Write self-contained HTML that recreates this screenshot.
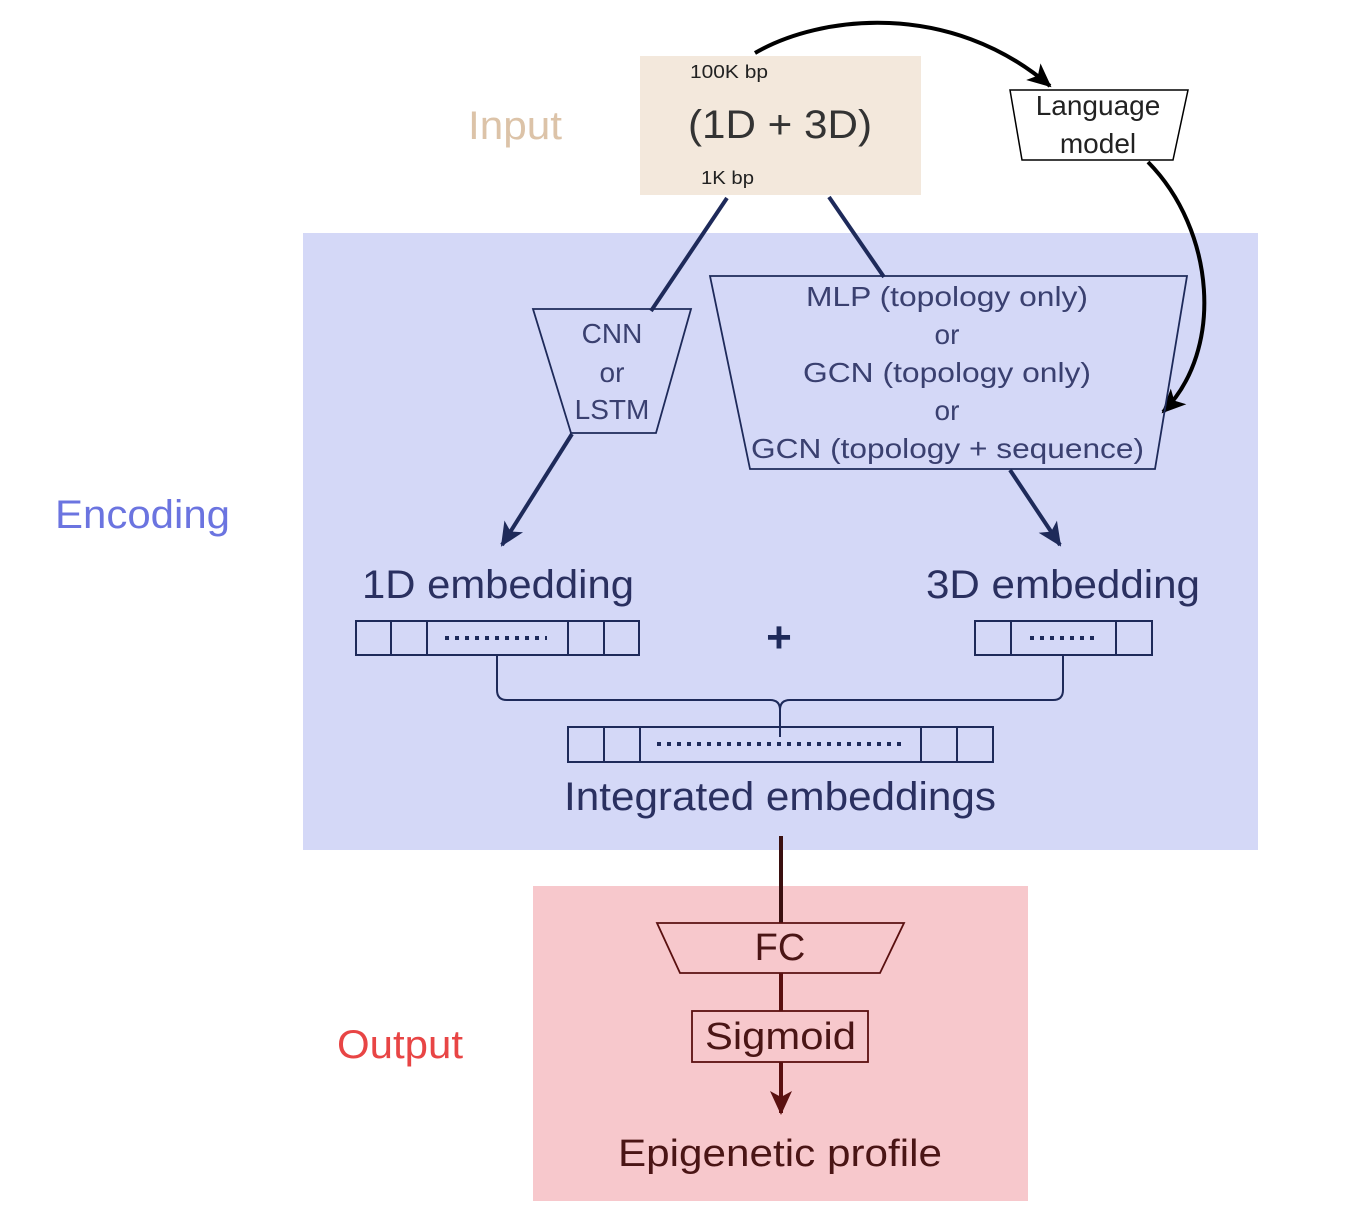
<!DOCTYPE html>
<html><head><meta charset="utf-8"><style>html,body{margin:0;padding:0;background:#fff}svg{display:block}</style></head>
<body>
<svg width="1362" height="1230" viewBox="0 0 1362 1230" xmlns="http://www.w3.org/2000/svg" font-family="Liberation Sans, sans-serif">
<defs>
<marker id="ab" markerWidth="26" markerHeight="26" refX="22" refY="13" orient="auto" markerUnits="userSpaceOnUse" viewBox="0 0 26 26"><path d="M0,2 L24,13 L0,24 L6,13 z" fill="#1e2a5a"/></marker>
<marker id="ar" markerWidth="26" markerHeight="26" refX="22" refY="13" orient="auto" markerUnits="userSpaceOnUse" viewBox="0 0 26 26"><path d="M0,2 L24,13 L0,24 L6,13 z" fill="#5a1010"/></marker>
<marker id="ak2" markerWidth="26" markerHeight="26" refX="22" refY="13" orient="auto" markerUnits="userSpaceOnUse" viewBox="0 0 26 26"><path d="M0,2 L24,13 L0,24 L6,13 z" fill="#000"/></marker>
</defs>
<rect x="640" y="56" width="281" height="139" fill="#f3e8dc"/>
<rect x="303" y="233" width="955" height="617" fill="#d4d8f7"/>
<rect x="533" y="886" width="495" height="315" fill="#f7c8cc"/>

<text x="468" y="139" font-size="40" fill="#dcc3a8" textLength="94" lengthAdjust="spacingAndGlyphs">Input</text>
<text x="55" y="528" font-size="40" fill="#6b74e0" textLength="175" lengthAdjust="spacingAndGlyphs">Encoding</text>
<text x="337" y="1058" font-size="40" fill="#e84545" textLength="126" lengthAdjust="spacingAndGlyphs">Output</text>

<text x="690" y="78" font-size="18" fill="#222" textLength="78" lengthAdjust="spacingAndGlyphs">100K bp</text>
<text x="688" y="138" font-size="40" fill="#333" textLength="184" lengthAdjust="spacingAndGlyphs">(1D + 3D)</text>
<text x="701" y="184" font-size="18" fill="#222" textLength="53" lengthAdjust="spacingAndGlyphs">1K bp</text>

<path d="M755,53 C820,15 950,0 1050,86" fill="none" stroke="#000" stroke-width="4" marker-end="url(#ak2)"/>
<polygon points="1010,90 1188,90 1173,160 1022,160" fill="#fff" stroke="#000" stroke-width="1.5"/>
<text x="1098" y="115" font-size="28" fill="#222" text-anchor="middle">Language</text>
<text x="1098" y="153" font-size="28" fill="#222" text-anchor="middle">model</text>
<path d="M1148,162 C1215,230 1225,350 1163,412" fill="none" stroke="#000" stroke-width="4" marker-end="url(#ak2)"/>

<line x1="727" y1="198" x2="651" y2="311" stroke="#1e2a5a" stroke-width="4"/>
<line x1="829" y1="197" x2="884" y2="277" stroke="#1e2a5a" stroke-width="4"/>

<polygon points="533,309 691,309 656,433 571,433" fill="none" stroke="#1e2a5a" stroke-width="1.8"/>
<g font-size="28" fill="#3a4070" text-anchor="middle">
<text x="612" y="343">CNN</text><text x="612" y="382">or</text><text x="612" y="419">LSTM</text>
</g>
<polygon points="710,276 1187,276 1155,469 750,469" fill="none" stroke="#1e2a5a" stroke-width="1.8"/>
<g font-size="28" fill="#3a4070">
<text x="806" y="306" textLength="282" lengthAdjust="spacingAndGlyphs">MLP (topology only)</text>
<text x="947" y="344" text-anchor="middle">or</text>
<text x="803" y="382" textLength="288" lengthAdjust="spacingAndGlyphs">GCN (topology only)</text>
<text x="947" y="420" text-anchor="middle">or</text>
<text x="751" y="458" textLength="393" lengthAdjust="spacingAndGlyphs">GCN (topology + sequence)</text>
</g>
<line x1="572" y1="434" x2="502" y2="545" stroke="#1e2a5a" stroke-width="4" marker-end="url(#ab)"/>
<line x1="1010" y1="470" x2="1060" y2="545" stroke="#1e2a5a" stroke-width="4" marker-end="url(#ab)"/>

<text x="362" y="598" font-size="40" fill="#2a3060" textLength="272" lengthAdjust="spacingAndGlyphs">1D embedding</text>
<text x="926" y="598" font-size="40" fill="#2a3060" textLength="274" lengthAdjust="spacingAndGlyphs">3D embedding</text>

<g fill="none" stroke="#1e2a5a" stroke-width="2">
<rect x="356" y="621" width="283" height="34"/>
<line x1="391" y1="621" x2="391" y2="655"/><line x1="427" y1="621" x2="427" y2="655"/><line x1="568" y1="621" x2="568" y2="655"/><line x1="604" y1="621" x2="604" y2="655"/>
<rect x="975" y="621" width="177" height="34"/>
<line x1="1011" y1="621" x2="1011" y2="655"/><line x1="1116" y1="621" x2="1116" y2="655"/>
<rect x="568" y="727" width="425" height="35"/>
<line x1="604" y1="727" x2="604" y2="762"/><line x1="640" y1="727" x2="640" y2="762"/><line x1="921" y1="727" x2="921" y2="762"/><line x1="957" y1="727" x2="957" y2="762"/>
<path d="M497,655 V690 Q497,700 507,700 H770 Q780,700 780,710 V737 M780,710 Q780,700 790,700 H1053 Q1063,700 1063,690 V655"/>
</g>
<g stroke="#1e2a5a" stroke-width="4" stroke-dasharray="4,6">
<line x1="445" y1="638" x2="547" y2="638"/>
<line x1="1030" y1="638" x2="1100" y2="638"/>
<line x1="657" y1="744" x2="905" y2="744"/>
</g>
<text x="779" y="652" font-size="44" fill="#1e2a5a" text-anchor="middle" font-weight="bold">+</text>
<text x="564" y="810" font-size="40" fill="#2a3060" textLength="432" lengthAdjust="spacingAndGlyphs">Integrated embeddings</text>

<line x1="781" y1="836" x2="781" y2="923" stroke="#3a1010" stroke-width="4"/>
<polygon points="657,923 904,923 880,973 680,973" fill="none" stroke="#5a1010" stroke-width="1.8"/>
<text x="780" y="960" font-size="38" fill="#4a1515" text-anchor="middle">FC</text>
<line x1="781" y1="973" x2="781" y2="1011" stroke="#5a1010" stroke-width="4"/>
<rect x="692" y="1011" width="176" height="51" fill="none" stroke="#5a1010" stroke-width="1.8"/>
<text x="705" y="1049" font-size="38" fill="#4a1515" textLength="151" lengthAdjust="spacingAndGlyphs">Sigmoid</text>
<line x1="781" y1="1062" x2="781" y2="1113" stroke="#5a1010" stroke-width="4" marker-end="url(#ar)"/>
<text x="618" y="1166" font-size="38" fill="#4a1515" textLength="324" lengthAdjust="spacingAndGlyphs">Epigenetic profile</text>
</svg>
</body></html>
